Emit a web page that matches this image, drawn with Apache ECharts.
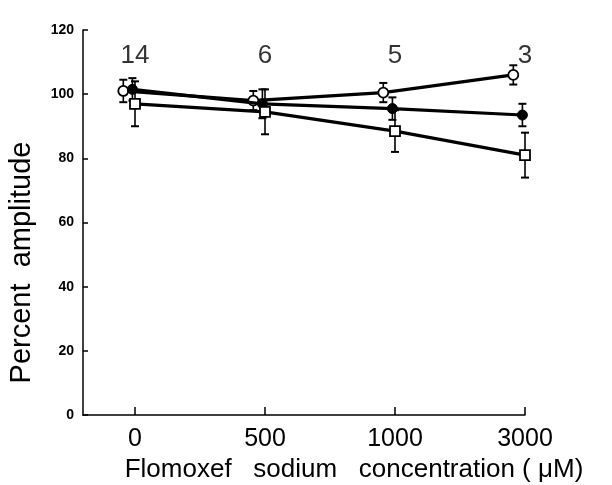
<!DOCTYPE html>
<html>
<head>
<meta charset="utf-8">
<script src="https://cdn.jsdelivr.net/npm/echarts@6/dist/echarts.min.js"></script>
<style>
html,body{margin:0;padding:0;background:#fff;}
#chart{width:612px;height:485px;}
</style>
</head>
<body>
<div id="chart"></div>
<script>
// ---- data ----
const categories = ['0', '500', '1000', '3000'];
const nCounts = ['14', '6', '5', '3'];
const yTicks = [0, 20, 40, 60, 80, 100, 120];
const openMean = [101, 98, 100.5, 106];
const openSD = [3.5, 3, 3, 3];
const filledMean = [101.5, 97, 95.5, 93.5];
const filledSD = [3.5, 4.5, 3.5, 3.5];
const squareMean = [97, 94.5, 88.5, 81];
const squareSD = [7, 7, 6.5, 7];

// ---- build ----
const OFF_OPEN = -0.09, OFF_FILLED = -0.02, OFF_SQUARE = 0.0;
const FONT = '"Liberation Sans", Arial, Helvetica, sans-serif';

function pts(mean, off) { return mean.map((v, i) => [i + off, v]); }
function errs(mean, sd, off) { return mean.map((v, i) => [i + off, v - sd[i], v + sd[i]]); }

function errRender(params, api) {
  const x = api.value(0);
  const lo = api.coord([x, api.value(1)]);
  const hi = api.coord([x, api.value(2)]);
  const cw = 4;
  const st = { stroke: '#000', lineWidth: 1.6 };
  return {
    type: 'group',
    children: [
      { type: 'line', shape: { x1: lo[0], y1: lo[1], x2: hi[0], y2: hi[1] }, style: st },
      { type: 'line', shape: { x1: lo[0] - cw, y1: lo[1], x2: lo[0] + cw, y2: lo[1] }, style: { stroke: '#000', lineWidth: 2 } },
      { type: 'line', shape: { x1: hi[0] - cw, y1: hi[1], x2: hi[0] + cw, y2: hi[1] }, style: { stroke: '#000', lineWidth: 2 } }
    ]
  };
}

const chart = echarts.init(document.getElementById('chart'), null, { renderer: 'canvas' });
const lineStyle = { color: '#000', width: 3.2 };

const option = {
  backgroundColor: '#fff',
  animation: false,
  grid: { left: 83, right: 87, top: 30, bottom: 70, containLabel: false, outerBoundsMode: 'none' },
  xAxis: {
    type: 'value',
    min: -0.4,
    max: 3,
    splitLine: { show: false },
    axisLine: { show: true, onZero: false, lineStyle: { color: '#000', width: 1.5 } },
    axisTick: { show: true, inside: true, length: 8, customValues: [0, 1, 2, 3], lineStyle: { color: '#000', width: 1.5 } },
    axisLabel: {
      customValues: [0, 1, 2, 3],
      formatter: v => categories[Math.round(v)],
      color: '#000', fontFamily: FONT, fontSize: 25, margin: 12
    },
    name: 'Flomoxef   sodium   concentration ( \u03bcM)',
    nameLocation: 'middle',
    nameGap: 39,
    nameTextStyle: { color: '#000', fontFamily: FONT, fontSize: 26, padding: [0, 0, 0, 100] }
  },
  yAxis: {
    type: 'value',
    min: 0,
    max: 120,
    interval: 20,
    splitLine: { show: false },
    axisLine: { show: true, onZero: false, lineStyle: { color: '#000', width: 1.5 } },
    axisTick: { show: true, inside: true, length: 5, lineStyle: { color: '#000', width: 1.5 } },
    axisLabel: { color: '#000', fontFamily: FONT, fontSize: 14, fontWeight: 'bold', margin: 9,
      formatter: v => (yTicks.indexOf(v) >= 0 ? String(v) : '') },
    name: 'Percent  amplitude',
    nameLocation: 'middle',
    nameGap: 47,
    nameTextStyle: { color: '#000', fontFamily: FONT, fontSize: 29, padding: [0, 80, 0, 0] }
  },
  series: [
    { type: 'custom', renderItem: errRender, data: errs(openMean, openSD, OFF_OPEN), z: 3 },
    { type: 'custom', renderItem: errRender, data: errs(filledMean, filledSD, OFF_FILLED), z: 3 },
    { type: 'custom', renderItem: errRender, data: errs(squareMean, squareSD, OFF_SQUARE), z: 3 },
    {
      type: 'line', data: pts(openMean, OFF_OPEN), lineStyle: lineStyle,
      symbol: 'circle', symbolSize: 10,
      itemStyle: { color: '#fff', borderColor: '#000', borderWidth: 1.8 }, z: 4
    },
    {
      type: 'line', data: pts(filledMean, OFF_FILLED), lineStyle: lineStyle,
      symbol: 'circle', symbolSize: 10,
      itemStyle: { color: '#000', borderColor: '#000', borderWidth: 1 }, z: 5
    },
    {
      type: 'line', data: pts(squareMean, OFF_SQUARE), lineStyle: lineStyle,
      symbol: 'rect', symbolSize: 10,
      itemStyle: { color: '#fff', borderColor: '#000', borderWidth: 1.8 }, z: 6
    },
    {
      type: 'scatter', symbol: 'circle', symbolSize: 1,
      itemStyle: { color: 'rgba(0,0,0,0)' },
      data: categories.map((c, i) => [i, 112]),
      label: { show: true, position: 'inside', formatter: p => nCounts[p.dataIndex],
        color: '#000', fontFamily: FONT, fontSize: 26 },
      silent: true, z: 7
    }
  ]
};
chart.setOption(option);
</script>
</body>
</html>
